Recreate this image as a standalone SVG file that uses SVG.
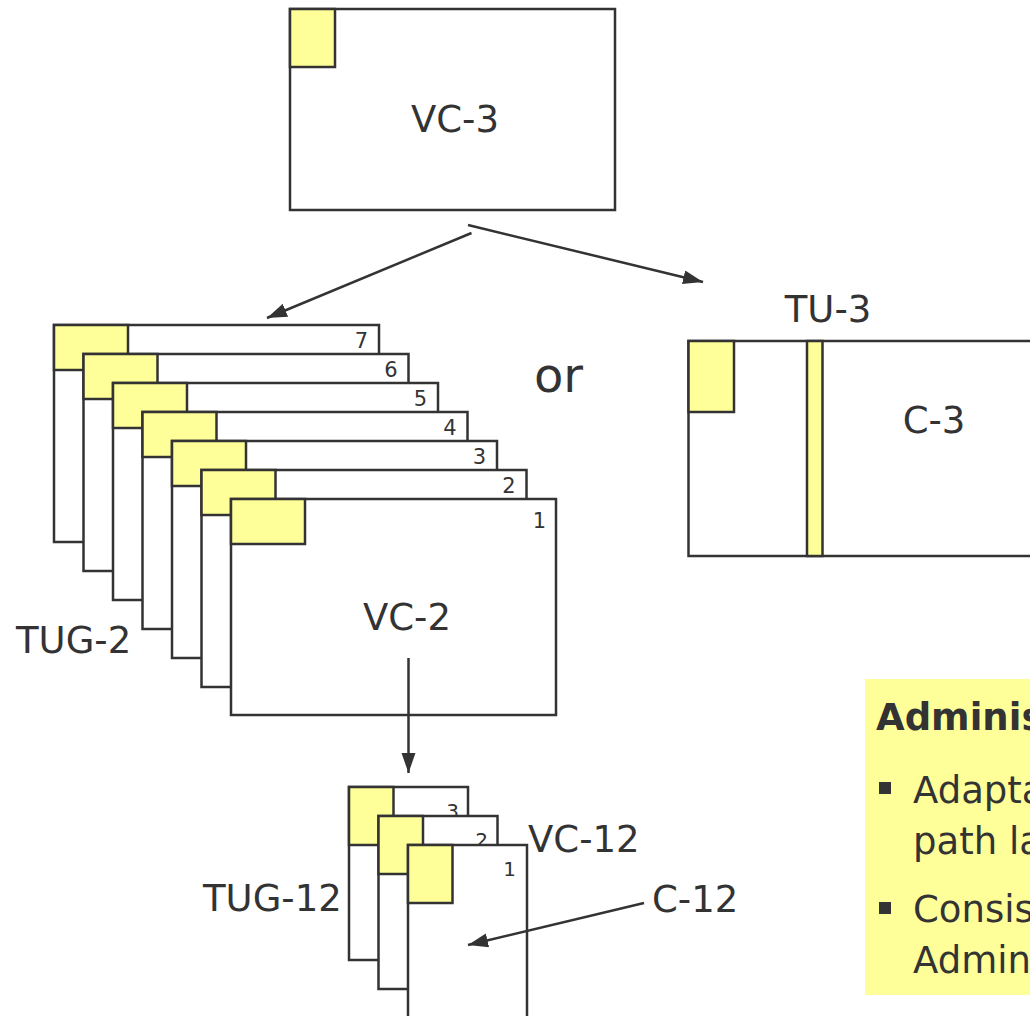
<svg xmlns="http://www.w3.org/2000/svg" width="1030" height="1016" viewBox="0 0 1030 1016">
<style>
.f{fill:#ffffff;stroke:#333333;stroke-width:2.5}
.y{fill:#ffff99;stroke:#333333;stroke-width:2.5}
.t{font-family:"DejaVu Sans",Verdana,sans-serif;fill:#333333}
.lbl{font-size:37px}
.num{font-size:21px;text-anchor:end}
.num12{font-size:20px;text-anchor:end}
.c{stroke:#333333;stroke-width:2.5;fill:none}
</style>
<defs>
<marker id="ah" markerUnits="userSpaceOnUse" markerWidth="22" markerHeight="16" refX="20" refY="7" orient="auto">
<path d="M0,0 L20,7 L0,14 z" fill="#333333"/>
</marker>
</defs>
<rect width="1030" height="1016" fill="#ffffff"/>

<g id="vc3">
<rect class="f" x="290" y="9" width="325" height="201"/>
<rect class="y" x="290" y="9" width="45" height="58"/>
<text class="t lbl" x="455" y="132" text-anchor="middle">VC-3</text>
</g>

<g id="tug2">
<g id="tug2-7"><rect class="f" x="54" y="325" width="325" height="217"/><rect class="y" x="54" y="325" width="74" height="45"/><text class="t num" x="368" y="348">7</text></g>
<g id="tug2-6"><rect class="f" x="83.5" y="354" width="325" height="217"/><rect class="y" x="83.5" y="354" width="74" height="45"/><text class="t num" x="397.5" y="377">6</text></g>
<g id="tug2-5"><rect class="f" x="113" y="383" width="325" height="217"/><rect class="y" x="113" y="383" width="74" height="45"/><text class="t num" x="427" y="406">5</text></g>
<g id="tug2-4"><rect class="f" x="142.5" y="412" width="325" height="217"/><rect class="y" x="142.5" y="412" width="74" height="45"/><text class="t num" x="456.5" y="435">4</text></g>
<g id="tug2-3"><rect class="f" x="172" y="441" width="325" height="217"/><rect class="y" x="172" y="441" width="74" height="45"/><text class="t num" x="486" y="464">3</text></g>
<g id="tug2-2"><rect class="f" x="201.5" y="470" width="325" height="217"/><rect class="y" x="201.5" y="470" width="74" height="45"/><text class="t num" x="515.5" y="493">2</text></g>
<g id="tug2-1"><rect class="f" x="231" y="499" width="325" height="216"/><rect class="y" x="231" y="499" width="74" height="45"/><text class="t num" x="546" y="528">1</text>
<text class="t lbl" x="407" y="630" text-anchor="middle">VC-2</text></g>
<text class="t lbl" x="16" y="653">TUG-2</text>
</g>

<text id="or" class="t" x="534" y="392" font-size="48">or</text>

<g id="tu3">
<rect class="f" x="688.5" y="341" width="360" height="215"/>
<rect class="y" x="688.5" y="341" width="45.5" height="71"/>
<rect class="y" x="807" y="341" width="15.5" height="215"/>
<text class="t lbl" x="828" y="322" text-anchor="middle">TU-3</text>
<text class="t lbl" x="934" y="433" text-anchor="middle">C-3</text>
</g>

<g id="tug12">
<g id="tug12-3"><rect class="f" x="349" y="787" width="119" height="173"/><rect class="y" x="349" y="787" width="44.5" height="58"/><text class="t num12" x="459" y="818">3</text></g>
<g id="tug12-2"><rect class="f" x="378.5" y="816" width="119" height="173"/><rect class="y" x="378.5" y="816" width="44.5" height="58"/><text class="t num12" x="488" y="847">2</text></g>
<g id="tug12-1"><rect class="f" x="408" y="845" width="119" height="190"/><rect class="y" x="408" y="845" width="44.5" height="58"/><text class="t num12" x="516" y="876">1</text></g>
<text class="t lbl" x="528" y="852">VC-12</text>
<text class="t lbl" x="203" y="911">TUG-12</text>
<text class="t lbl" x="652" y="912">C-12</text>
</g>

<g id="note">
<rect x="865" y="679" width="180" height="316" fill="#ffff99"/>
<text class="t" x="876" y="730" font-size="37" font-weight="bold">Adminis</text>
<rect x="879" y="782" width="12" height="12" fill="#333333"/>
<text class="t" x="913" y="803" font-size="37">Adapta</text>
<text class="t" x="913" y="854" font-size="37">path la</text>
<rect x="879" y="902" width="12" height="12" fill="#333333"/>
<text class="t" x="913" y="922" font-size="37">Consis</text>
<text class="t" x="913" y="973" font-size="37">Admin</text>
</g>

<g id="connectors">
<line class="c" x1="471.5" y1="233" x2="267" y2="318" marker-end="url(#ah)"/>
<line class="c" x1="468" y1="225" x2="703" y2="282" marker-end="url(#ah)"/>
<line class="c" x1="408.5" y1="658" x2="408.5" y2="773" marker-end="url(#ah)"/>
<line class="c" x1="644" y1="903" x2="468" y2="945" marker-end="url(#ah)"/>
</g>
</svg>
